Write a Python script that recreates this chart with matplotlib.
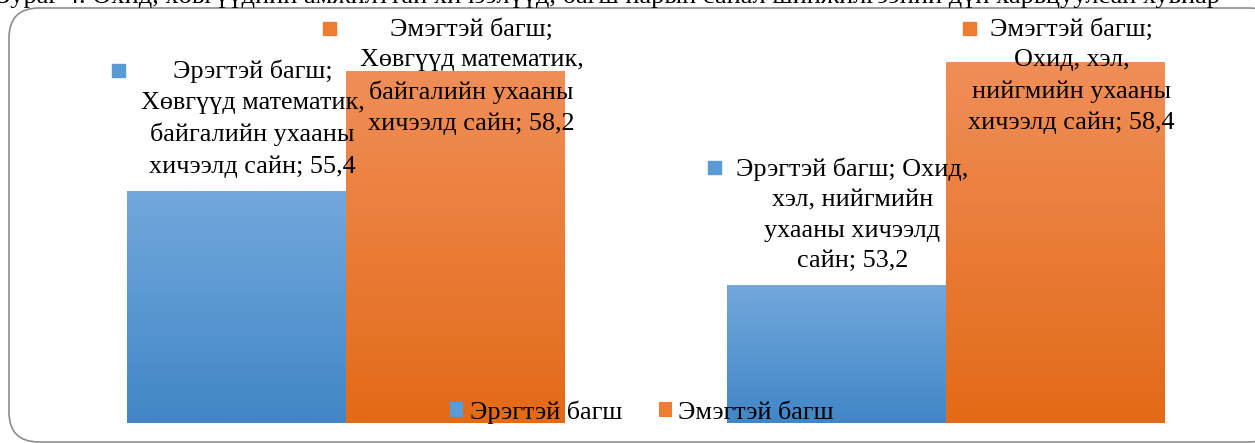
import numpy as np
import matplotlib
matplotlib.use("Agg")
import matplotlib.pyplot as plt
from matplotlib.patches import FancyBboxPatch, Patch
from matplotlib.offsetbox import AnnotationBbox, DrawingArea

plt.rcParams['font.family'] = ['Liberation Serif', 'DejaVu Serif']

# data
series = ["Эрэгтэй багш", "Эмэгтэй багш"]
groups = ["Хөвгүүд математик, байгалийн ухааны хичээлд сайн",
          "Охид, хэл, нийгмийн ухааны хичээлд сайн"]
male = [55.4, 53.2]
female = [58.2, 58.4]
label_text = [
    ["Эрэгтэй багш;\nХөвгүүд математик,\nбайгалийн ухааны\nхичээлд сайн; 55,4",
     "Эрэгтэй багш; Охид,\nхэл, нийгмийн\nухааны хичээлд\nсайн; 53,2"],
    ["Эмэгтэй багш;\nХөвгүүд математик,\nбайгалийн ухааны\nхичээлд сайн; 58,2",
     "Эмэгтэй багш;\nОхид, хэл,\nнийгмийн ухааны\nхичээлд сайн; 58,4"],
]
title = "Зураг 4. Охид, хөвгүүдийн амжилттай хичээлүүд, багш нарын санал шинжилгээний дүн харьцуулсан хувиар"

key_colors = ["#5b9bd5", "#ed7d31"]
grad_top = ["#72a8dc", "#f08e58"]
grad_bot = ["#4186c7", "#e36a17"]
FS = 18.8


def gradient_bar(ax, bar, top, bot):
    c1 = np.array(matplotlib.colors.to_rgb(top))
    c2 = np.array(matplotlib.colors.to_rgb(bot))
    t = np.linspace(0, 1, 100)[:, None]
    img = (c1 * (1 - t) + c2 * t)[:, None, :]
    x0, w, h = bar.get_x(), bar.get_width(), bar.get_height()
    y0 = bar.get_y()
    im = ax.imshow(img, extent=[x0, x0 + w, y0, y0 + h], aspect='auto',
                   origin='upper', zorder=2)
    im.set_clip_path(bar)


def main():
    fig = plt.figure(figsize=(12.55, 4.43), dpi=100)
    W, H = 1255, 443

    # rounded chart border (in inches)
    border = FancyBboxPatch((0.09, 0.01), 12.7, 4.34,
                            boxstyle="round,pad=0,rounding_size=0.30",
                            transform=fig.dpi_scale_trans, facecolor="white",
                            edgecolor="#8c8c8c", linewidth=1.2, zorder=-5)
    fig.patches.append(border)

    fig.text(-3 / W, 1 - 3 / H, title, fontsize=19, ha='left', va='baseline')

    ax = fig.add_axes([46 / W, 20.3 / H, 1200 / W, 429.4 / H])
    ax.set_xlim(-0.5, 1.5)
    ax.set_ylim(50, 60)
    ax.axis('off')

    x = np.arange(len(groups))
    w = 0.365
    vals = [male, female]
    key_dx = [[-22, -22], [-30, 1.5]]
    top_px = [[0, 0], [25, 25]]
    for i, v in enumerate(vals):
        bars = ax.bar(x + (i - 0.5) * w, np.array(v) - 50, bottom=50, width=w,
                      color=key_colors[i], linewidth=0, zorder=1)
        for j, b in enumerate(bars):
            gradient_bar(ax, b, grad_top[i], grad_bot[i])
            cx = b.get_x() + b.get_width() / 2
            if v[j] > 57:
                # label would not fit above the bar: pinned to the plot top
                t = ax.annotate(label_text[i][j],
                                xy=(cx, 1 - top_px[i][j] / 429.4),
                                xycoords=('data', 'axes fraction'),
                                xytext=(11.5, 0), textcoords='offset points',
                                ha='center', va='top', fontsize=FS,
                                linespacing=1.5, zorder=5,
                                annotation_clip=False)
            else:
                t = ax.annotate(label_text[i][j], xy=(cx, v[j]),
                                xytext=(11.5, 9.5), textcoords='offset points',
                                ha='center', va='bottom', fontsize=FS,
                                linespacing=1.5, zorder=5)
            da = DrawingArea(9.4, 9.4)
            da.add_artist(plt.Rectangle((0, 0), 9.4, 9.4, color=key_colors[i]))
            key = AnnotationBbox(da, (0, 1), xycoords=t,
                                 xybox=(key_dx[i][j] * 0.72, -7.5),
                                 boxcoords='offset points', frameon=False,
                                 zorder=6)
            ax.add_artist(key)

    handles = [Patch(facecolor=c, edgecolor='none') for c in key_colors]
    fig.legend(handles, series, loc='center', bbox_to_anchor=(642 / W, 31 / H),
               ncol=2, frameon=False, fontsize=FS, handlelength=0.5,
               handleheight=0.5, handletextpad=0.25, columnspacing=1.4)

    fig.savefig("out.png", dpi=100)


if __name__ == "__main__":
    main()
